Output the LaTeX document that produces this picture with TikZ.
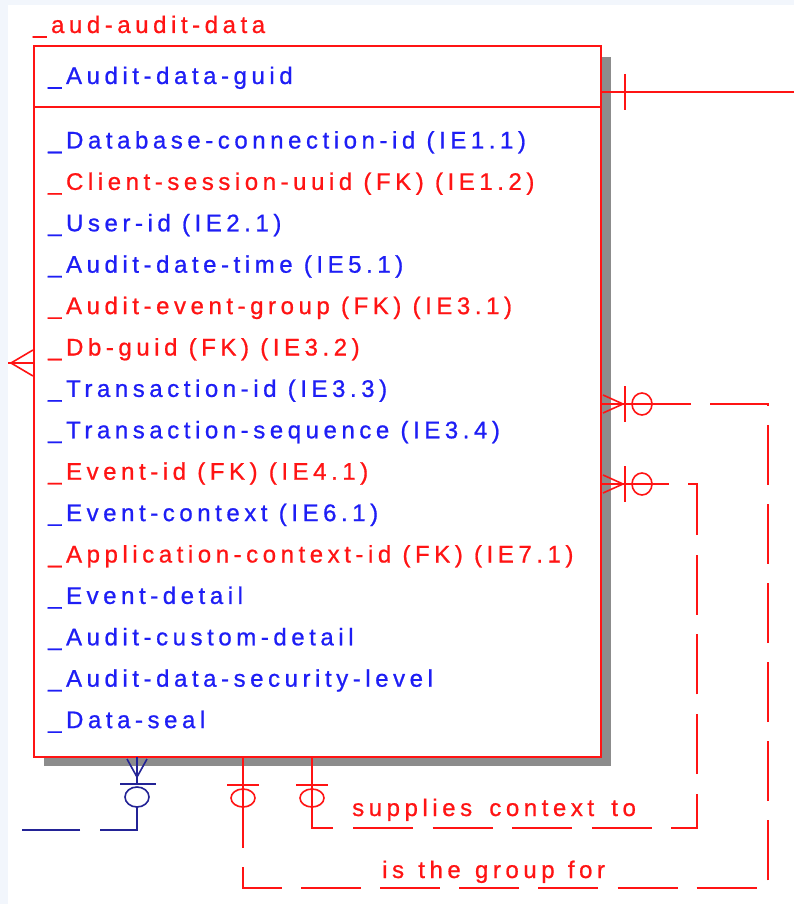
\documentclass[tikz,border=0pt]{standalone}
\usepackage{fontspec}
\newfontfamily\erfont[LetterSpace=19, FakeBold=0.8]{Liberation Sans}
\usetikzlibrary{calc}
\definecolor{erred}{RGB}{255,20,20}
\definecolor{erblue}{RGB}{30,30,245}
\definecolor{ernavy}{RGB}{35,35,150}
\definecolor{bgpale}{RGB}{242,246,252}
\definecolor{shadowgray}{RGB}{140,140,140}
\begin{document}
\begin{tikzpicture}[x=1pt,y=-1pt,
  attr/.style={anchor=base west, inner sep=0pt, font=\erfont\fontsize{24pt}{28pt}\selectfont},
  redtxt/.style={attr, text=erred},
  bluetxt/.style={attr, text=erblue},
  rel/.style={draw=erred, line width=1.6pt},
  navyrel/.style={draw=ernavy, line width=1.6pt},
  boxline/.style={draw=erred, line width=1.8pt}]
% canvas
\useasboundingbox (0,0) rectangle (794,904);
\fill[bgpale] (0,0) rectangle (794,904);
\fill[white] (8,5) rectangle (794,904);
% shadow
\fill[shadowgray] (602,57) rectangle (611,766);
\fill[shadowgray] (44,757) rectangle (611,766);
% entity box
\node[boxline, fill=white, minimum width=567pt, minimum height=711pt, inner sep=0pt, anchor=north west] (ent) at (33,45) {};
\draw[boxline] (33,107) -- (600,107);
\node[redtxt] (title) at (33,33) {\_aud-audit-data};
\node[bluetxt] (key) at (48,84) {\_Audit-data-guid};
\foreach \i/\c/\t in {
  1/bluetxt/{\_Database-connection-id (IE1.1)},
  2/redtxt/{\_Client-session-uuid (FK) (IE1.2)},
  3/bluetxt/{\_User-id (IE2.1)},
  4/bluetxt/{\_Audit-date-time (IE5.1)},
  5/redtxt/{\_Audit-event-group (FK) (IE3.1)},
  6/redtxt/{\_Db-guid (FK) (IE3.2)},
  7/bluetxt/{\_Transaction-id (IE3.3)},
  8/bluetxt/{\_Transaction-sequence (IE3.4)},
  9/redtxt/{\_Event-id (FK) (IE4.1)},
  10/bluetxt/{\_Event-context (IE6.1)},
  11/redtxt/{\_Application-context-id (FK) (IE7.1)},
  12/bluetxt/{\_Event-detail},
  13/bluetxt/{\_Audit-custom-detail},
  14/bluetxt/{\_Audit-data-security-level},
  15/bluetxt/{\_Data-seal}}
  { \node[\c] (r\i) at (48,{148.5+41.4*(\i-1)}) {\t}; }
% top-right relationship
\coordinate (t0) at (600,92);
\coordinate (t1) at (794,92);
\draw[rel] (t0) -- (t1);
\draw[rel] (625,74) -- (625,110);
% left relationship
\coordinate (l0) at (8,363);
\coordinate (l1) at (33,363);
\draw[rel] (l0) -- (l1);
\draw[rel] (33,350) -- (11,363) -- (33,376);
% "is the group for"
\coordinate (g0) at (600,404);
\coordinate (g1) at (768,404);
\coordinate (g2) at (768,888);
\coordinate (g3) at (243,888);
\coordinate (g4) at (243,757);
\draw[rel, dash pattern=on 60pt off 19.1pt, dash phase=48.2pt] (g4) -- (g3) -- (g2) -- (g1) -- (g0);
\draw[rel] (g0) -- (690,404);
\draw[rel] (603,395) -- (623,404) -- (603,413);
\draw[rel] (625,386) -- (625,422);
\draw[rel] (642,404) ellipse [x radius=10pt, y radius=11pt];
\draw[rel] (g4) -- (243,847);
\draw[rel] (227,785) -- (259,785);
\draw[rel] (243,798) ellipse [x radius=12pt, y radius=9pt];
\node[redtxt] (lab1) at (382,878) {is\hspace{3pt} the\hspace{3pt} group\hspace{2pt} for};
% "supplies context to"
\coordinate (s0) at (600,484);
\coordinate (s1) at (697,484);
\coordinate (s2) at (697,828);
\coordinate (s3) at (312,828);
\coordinate (s4) at (312,757);
\draw[rel, dash pattern=on 60pt off 19.6pt, dash phase=47.2pt] (s4) -- (s3) -- (s2) -- (s1) -- (s0);
\draw[rel] (s0) -- (667,484);
\draw[rel] (603,475) -- (623,484) -- (603,493);
\draw[rel] (625,466) -- (625,502);
\draw[rel] (642,484) ellipse [x radius=10pt, y radius=11pt];
\draw[rel] (s4) -- (s3) -- (333,828);
\draw[rel] (296,785) -- (328,785);
\draw[rel] (312,798) ellipse [x radius=12pt, y radius=9pt];
\node[redtxt] (lab2) at (352,816) {supplies\hspace{6pt} context\hspace{6pt} to};
% navy relationship at bottom left
\coordinate (n0) at (137,757);
\coordinate (n1) at (137,830);
\coordinate (n2) at (8,830);
\draw[navyrel, dash pattern=on 27pt off 23pt on 60pt off 20pt on 58pt off 100pt] (n0) -- (n1) -- (n2);
\draw[navyrel] (127,759) -- (137,777) -- (147,759);
\draw[navyrel] (120,784) -- (156,784);
\draw[navyrel] (137,797) ellipse [x radius=12pt, y radius=10pt];
\end{tikzpicture}
\end{document}
